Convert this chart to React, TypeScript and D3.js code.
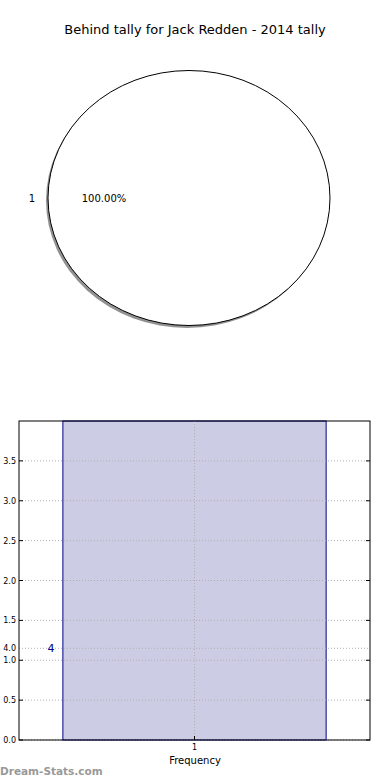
import React from "react";
import * as d3 from "d3";

const title = "Behind tally for Jack Redden - 2014 tally";
const pieLabels = ["1"];
const pieValues = [4];
const barCategories = [1];
const barValues = [4];
const yTicks = [0, 0.5, 1.0, 1.5, 2.0, 2.5, 3.0, 3.5];
const extraTick = { value: 1.15, label: "4.0" };
const xLabel = "Frequency";
const watermark = "Dream-Stats.com";

export default function App() {
  const W = 390, H = 780;
  const font = "DejaVu Sans, sans-serif";
  // pie
  const cx = 189, cy = 198, rx = 141, ry = 127.5;
  const pieGen = d3.pie<number>().sort(null).startAngle(0).endAngle(2 * Math.PI);
  const arcs = pieGen(pieValues);
  const arcGen = d3.arc<d3.PieArcDatum<number>>().innerRadius(0).outerRadius(1);
  // bar
  const left = 19, right = 370, top = 421, bottom = 740;
  const x = d3.scaleLinear().domain([0.5, 1.5]).range([left, right]);
  const y = d3.scaleLinear().domain([0, 4]).range([bottom, top]);
  const bw = 0.75;
  const grid = "#b0b0b0";
  return (
    <svg width={W} height={H} style={{ position: "absolute", left: 0, top: 0, background: "#fff" }}>
      <text x={195} y={34} textAnchor="middle" fontFamily={font} fontSize={13} fill="#000">{title}</text>
      {/* pie shadow */}
      {arcs.map((a, i) => (
        <path key={"s" + i} d={arcGen(a) || ""} transform={`translate(${cx - 2},${cy + 2.5}) scale(${rx},${ry})`}
          fill="#777" fillOpacity={0.8} stroke="none" />
      ))}
      {arcs.map((a, i) => (
        <path key={"p" + i} d={arcGen(a) || ""} transform={`translate(${cx},${cy}) scale(${rx},${ry})`}
          fill="#fff" stroke="#000" strokeWidth={1} vectorEffect="non-scaling-stroke" />
      ))}
      {arcs.map((a, i) => (
        <g key={"l" + i}>
          <text x={32} y={cy + 4} textAnchor="middle" fontFamily={font} fontSize={10}>{pieLabels[i]}</text>
          <text x={104} y={cy + 4} textAnchor="middle" fontFamily={font} fontSize={10}>
            {((a.value / d3.sum(pieValues)) * 100).toFixed(2) + "%"}
          </text>
        </g>
      ))}
      {/* bars */}
      {barCategories.map((c, i) => (
        <rect key={"b" + i} x={x(c - bw / 2)} y={y(barValues[i])} width={x(c + bw / 2) - x(c - bw / 2)}
          height={y(0) - y(barValues[i])} fill="#cccce4" stroke="#00008b" strokeWidth={1} />
      ))}
      {/* grid */}
      {[...yTicks, extraTick.value].map((t, i) => (
        <line key={"g" + i} x1={left} x2={right} y1={y(t)} y2={y(t)} stroke={grid} strokeWidth={1} strokeDasharray="1,2" />
      ))}
      {barCategories.map((c, i) => (
        <line key={"gx" + i} x1={x(c)} x2={x(c)} y1={top} y2={bottom} stroke={grid} strokeWidth={1} strokeDasharray="1,2" />
      ))}
      <rect x={left} y={top} width={right - left} height={bottom - top} fill="none" stroke="#000" strokeWidth={1} />
      {yTicks.map((t, i) => (
        <g key={"yt" + i}>
          <line x1={left} x2={left + 4} y1={y(t)} y2={y(t)} stroke="#000" />
          <line x1={right - 4} x2={right} y1={y(t)} y2={y(t)} stroke="#000" />
          <text x={left - 3} y={y(t) + 3} textAnchor="end" fontFamily={font} fontSize={8}>{t.toFixed(1)}</text>
        </g>
      ))}
      <text x={left - 3} y={y(extraTick.value) + 3} textAnchor="end" fontFamily={font} fontSize={8}>{extraTick.label}</text>
      {barCategories.map((c, i) => (
        <g key={"xt" + i}>
          <line x1={x(c)} x2={x(c)} y1={bottom} y2={bottom - 4} stroke="#000" />
          <text x={x(c)} y={bottom + 10} textAnchor="middle" fontFamily={font} fontSize={8}>{c}</text>
        </g>
      ))}
      {barValues.map((v, i) => (
        <text key={"bv" + i} x={51} y={y(extraTick.value) + 4} textAnchor="middle" fontFamily={font} fontSize={11} fill="#00008b">{v}</text>
      ))}
      <text x={195} y={764} textAnchor="middle" fontFamily={font} fontSize={10}>{xLabel}</text>
      <text x={0} y={775} fontFamily={font} fontSize={10.5} fontWeight="bold" fill="#999">{watermark}</text>
    </svg>
  );
}
